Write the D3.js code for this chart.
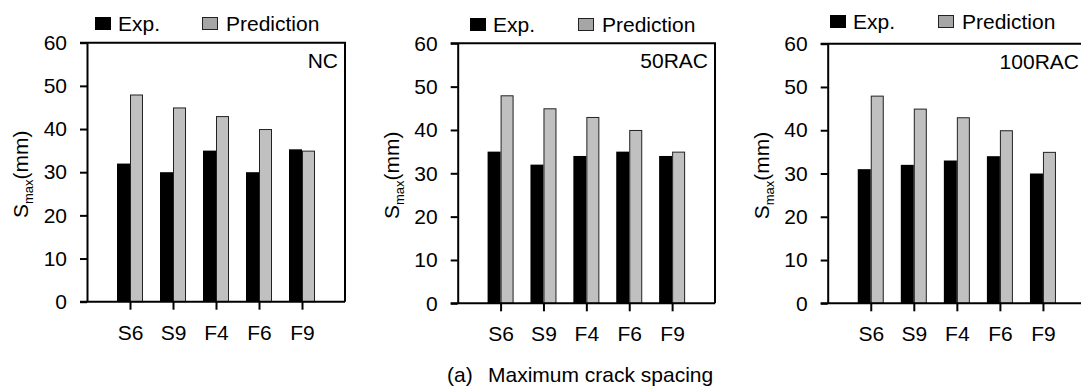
<!DOCTYPE html>
<html>
<head>
<meta charset="utf-8">
<script src="https://cdn.jsdelivr.net/npm/d3@7"></script>
<style>
body { margin: 0; background: #fff; }
svg text { font-family: "Liberation Sans", Arial, sans-serif; fill: #000; }
</style>
</head>
<body>
<script>
// chart data
var categories = ["S6", "S9", "F4", "F6", "F9"];
var seriesNames = ["Exp.", "Prediction"];
var panelNames = ["NC", "50RAC", "100RAC"];
var expNC = [32, 30, 35, 30, 35.3];
var predNC = [48, 45, 43, 40, 35];
var exp50 = [35, 32, 34, 35, 34];
var pred50 = [48, 45, 43, 40, 35];
var exp100 = [31, 32, 33, 34, 30];
var pred100 = [48, 45, 43, 40, 35];
var yTicks = [0, 10, 20, 30, 40, 50, 60];
var caption = ["(a)", "Maximum crack spacing"];

var svgWidth = 1081;
var svgHeight = 388;
var fontSize = 21;

// frame boxes of the three plots, legend placement
var frames = [
	{left: 87, right: 345, top: 42.7, bottom: 301.7, legExp: 95, legPred: 202, legY: 24},
	{left: 457.7, right: 715, top: 43.3, bottom: 303.3, legExp: 470, legPred: 578, legY: 25},
	{left: 827.7, right: 1086, top: 43.7, bottom: 303.3, legExp: 830, legPred: 938, legY: 22}
];
var expData = [expNC, exp50, exp100];
var predData = [predNC, pred50, pred100];
var colors = {exp: "#000000", pred: "#c0c0c0", predLegend: "#a6a6a6"};

var svg = d3.select("body")
			.append("svg")
				.attr("width", svgWidth)
				.attr("height", svgHeight);

panelNames.forEach(function(name, i){
	var f = frames[i];
	var g = svg.append("g");
	var xScale = d3.scalePoint()
					.domain(categories)
					.range([f.left, f.right])
					.padding(1);
	var yScale = d3.scaleLinear()
					.domain([0, 60])
					.range([f.bottom, f.top]);
	var barW = 13;

	// bars
	var rows = categories.map(function(c, k){
		return {cat: c, exp: expData[i][k], pred: predData[i][k]};
	});
	g.selectAll(".exp")
		.data(rows)
		.enter().append("rect")
			.attr("x", function(d){ return xScale(d.cat) - barW; })
			.attr("y", function(d){ return yScale(d.exp); })
			.attr("width", barW)
			.attr("height", function(d){ return yScale(0) - yScale(d.exp); })
			.attr("fill", colors.exp);
	g.selectAll(".pred")
		.data(rows)
		.enter().append("rect")
			.attr("x", function(d){ return xScale(d.cat) + 0.5; })
			.attr("y", function(d){ return yScale(d.pred) + 0.5; })
			.attr("width", barW - 1)
			.attr("height", function(d){ return yScale(0) - yScale(d.pred) - 0.5; })
			.attr("fill", colors.pred)
			.attr("stroke", "#222")
			.attr("stroke-width", 1);

	// axes
	var yAxis = g.append("g")
		.attr("transform", "translate(" + f.left + ",0)")
		.call(d3.axisLeft(yScale).tickValues(yTicks).tickSize(7).tickSizeOuter(0).tickPadding(13));
	var xAxis = g.append("g")
		.attr("transform", "translate(0," + f.bottom + ")")
		.call(d3.axisBottom(xScale).tickSize(8).tickSizeOuter(0).tickPadding(15));
	[yAxis, xAxis].forEach(function(a){
		a.select(".domain").attr("stroke", "#000").attr("stroke-width", 2);
		a.selectAll(".tick line").attr("stroke", "#000").attr("stroke-width", 2);
		a.selectAll(".tick text").attr("font-size", fontSize).attr("fill", "#000")
			.style("font-family", "'Liberation Sans', Arial, sans-serif");
	});
	xAxis.select(".domain").attr("d", "M" + (f.left - 7) + ",0H" + f.right);
	// frame top and right
	g.append("path")
		.attr("d", "M" + (f.left - 7) + "," + f.top + "H" + f.right + "V" + f.bottom)
		.attr("fill", "none")
		.attr("stroke", "#000")
		.attr("stroke-width", 2);

	// panel name
	g.append("text")
		.attr("x", f.right - 7)
		.attr("y", f.top + 25)
		.attr("text-anchor", "end")
		.attr("font-size", fontSize)
		.text(name);

	// y title
	var yt = g.append("text")
		.attr("transform", "translate(" + (f.left - 59) + "," + ((f.top + f.bottom) / 2 + 2) + ") rotate(-90)")
		.attr("text-anchor", "middle")
		.attr("font-size", fontSize);
	yt.append("tspan").text("S");
	yt.append("tspan").attr("font-size", 13).attr("dy", 5).text("max");
	yt.append("tspan").attr("dy", -5).text("(mm)");

	// legend
	var leg = g.append("g");
	leg.append("rect")
		.attr("x", f.legExp).attr("y", f.legY - 7)
		.attr("width", 16).attr("height", 13)
		.attr("fill", colors.exp);
	leg.append("text")
		.attr("x", f.legExp + 23).attr("y", f.legY + 7)
		.attr("font-size", fontSize)
		.text(seriesNames[0]);
	leg.append("rect")
		.attr("x", f.legPred + 0.5).attr("y", f.legY - 6.5)
		.attr("width", 15).attr("height", 12)
		.attr("fill", colors.predLegend)
		.attr("stroke", "#222");
	leg.append("text")
		.attr("x", f.legPred + 24).attr("y", f.legY + 7)
		.attr("font-size", fontSize)
		.text(seriesNames[1]);
});

// caption
var cap = svg.append("text")
	.attr("x", 447)
	.attr("y", 382)
	.attr("font-size", fontSize);
cap.append("tspan").text(caption[0]);
cap.append("tspan").attr("x", 488).text(caption[1]);
</script>
</body>
</html>
